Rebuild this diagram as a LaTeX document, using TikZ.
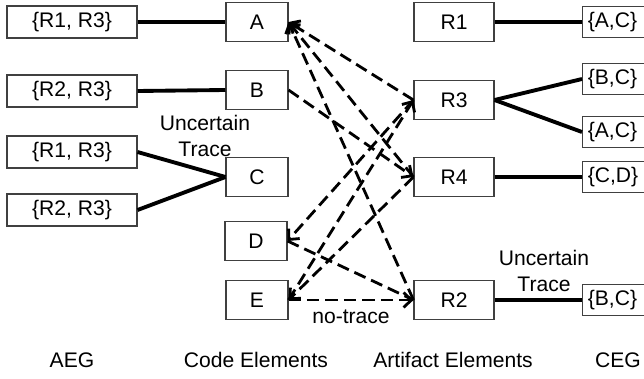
\documentclass[tikz,border=0pt]{standalone}
\usepackage{fontspec}
\setmainfont{Liberation Sans}
\usetikzlibrary{arrows.meta}
\tikzset{
  box/.style={draw=black!75, line width=0.6pt, inner sep=0pt, minimum height=0.77cm},
  setbox/.style={box, minimum width=2.6cm, minimum height=0.64cm},
  codebox/.style={box, minimum width=1.24cm},
  artbox/.style={box, minimum width=1.6cm},
  cegbox/.style={box, anchor=west, minimum height=0.62cm, text width=1.7cm, align=left, inner xsep=3pt},
  link/.style={line width=2.2pt},
  trace/.style={line width=1.6pt, dash pattern=on 7pt off 3.5pt},
  trarrow/.style={trace, -{Straight Barb[length=4.5pt,width=8.5pt,line width=1.6pt]}},
}
\begin{document}
\begin{tikzpicture}[x=0.02cm, y=-0.02cm, font=\fontsize{12}{14.5}\selectfont]
    \clip (0,0) rectangle (644,378);
    % AEG
    \node[setbox] (a1) at (72,22) {\{R1, R3\}};
    \node[setbox] (a2) at (72,91) {\{R2, R3\}};
    \node[setbox] (a3) at (72,152) {\{R1, R3\}};
    \node[setbox] (a4) at (72,210) {\{R2, R3\}};
    % Code elements
    \node[codebox] (A) at (257,22) {A};
    \node[codebox] (B) at (257,90) {B};
    \node[codebox] (C) at (257,177) {C};
    \node[codebox] (D) at (256,241) {D};
    \node[codebox] (E) at (257,300) {E};
    % Artifact elements
    \node[artbox] (R1) at (454,22) {R1};
    \node[artbox] (R3) at (454,100) {R3};
    \node[artbox] (R4) at (454,177) {R4};
    \node[artbox] (R2) at (454,300) {R2};
    % CEG
    \node[cegbox] (c1) at (582,22) {\{A,C\}};
    \node[cegbox] (c2) at (582,79) {\{B,C\}};
    \node[cegbox] (c3) at (582,132) {\{A,C\}};
    \node[cegbox] (c4) at (582,177) {\{C,D\}};
    \node[cegbox] (c5) at (582,300) {\{B,C\}};
    % Solid links
    \draw[link] (a1.east) -- (A.west);
    \draw[link] (a2.east) -- (B.west);
    \draw[link] (a3.east) -- (C.west);
    \draw[link] (a4.east) -- (C.west);
    \draw[link] (R1.east) -- (c1.west);
    \draw[link] (R3.east) -- (c2.west);
    \draw[link] (R3.east) -- (c3.west);
    \draw[link] (R4.east) -- (c4.west);
    \draw[link] (R2.east) -- (c5.west);
    % Dashed traces
    \draw[trarrow] (R3.west) -- (A.east);
    \draw[trarrow] (R4.west) -- (A.east);
    \draw[trarrow] (R2.west) -- (A.east);
    \draw[trarrow] (B.east) -- (R4.west);
    \draw[trarrow] (R3.west) -- (D.east);
    \draw[trace] (D.east) -- (R2.west);
    \draw[trarrow] (E.east) -- (R3.west);
    \draw[trarrow] (R4.west) -- (E.east);
    \draw[trarrow] (E.east) -- (R2.west);
    % Labels
    \node[align=center] (u1) at (205,136) {Uncertain\\Trace};
    \node[align=center] (u2) at (544,271) {Uncertain\\Trace};
    \node (nt) at (351,317) {no-trace};
    \node (t1) at (72,360) {AEG};
    \node (t2) at (256,360) {Code Elements};
    \node (t3) at (453,360) {Artifact Elements};
    \node (t4) at (618,360) {CEG};
\end{tikzpicture}
\end{document}
